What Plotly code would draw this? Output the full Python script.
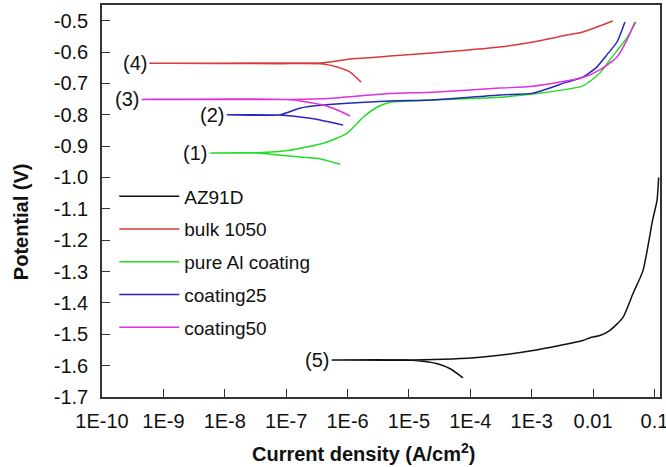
import math
import plotly.graph_objects as go

# ---- data (current density A/cm2, potential V) ----
az91d_i = [7.6e-5, 4.7e-5, 2.9e-5, 1.17e-5, 5.6e-7, 1.17e-5, 1.45e-4, 1.05e-3, 6.8e-3, 8.9e-3,
           0.0129, 0.0186, 0.0305, 0.0447, 0.065, 0.093, 0.11, 0.117]
az91d_e = [-1.639, -1.610, -1.594, -1.583, -1.582, -1.582, -1.573, -1.552, -1.520, -1.511,
           -1.504, -1.488, -1.447, -1.370, -1.297, -1.137, -1.073, -1.000]

bulk_i = [1.66e-6, 1.1e-6, 6.8e-7, 4.0e-7, 7.9e-8, 6.0e-10, 7.9e-8, 4.0e-7, 1.1e-6, 2.0e-6,
          4.9e-6, 8.5e-5, 3.0e-4, 1.05e-3, 3.7e-3, 6.8e-3, 0.021]
bulk_e = [-0.696, -0.664, -0.648, -0.638, -0.637, -0.636, -0.635, -0.634, -0.622, -0.619,
          -0.613, -0.594, -0.584, -0.568, -0.546, -0.536, -0.501]

pureal_i = [7.6e-7, 3.2e-7, 1.66e-7, 3.3e-8, 5.8e-9, 3.3e-8, 1.15e-7, 4.0e-7, 9.8e-7, 1.8e-6,
            3.0e-6, 4.9e-6, 2.45e-5, 3.0e-4, 1.05e-3, 6.8e-3, 0.0129, 0.0186, 0.0355, 0.050]
pureal_e = [-0.958, -0.939, -0.935, -0.922, -0.922, -0.921, -0.913, -0.891, -0.859, -0.808,
            -0.776, -0.760, -0.753, -0.744, -0.734, -0.708, -0.667, -0.626, -0.555, -0.504]

c25_i = [8.5e-7, 5.1e-7, 2.45e-7, 7.9e-8, 1.1e-8, 7.9e-8, 1.66e-7, 4.0e-7, 4.9e-6, 2.45e-5,
         3.0e-4, 1.05e-3, 3.7e-3, 6.8e-3, 0.0115, 0.0166, 0.0245, 0.033]
c25_e = [-0.833, -0.823, -0.811, -0.801, -0.800, -0.800, -0.779, -0.769, -0.756, -0.753,
         -0.737, -0.731, -0.696, -0.680, -0.648, -0.610, -0.568, -0.504]

c50_i = [1.1e-6, 6.8e-7, 4.0e-7, 1.15e-7, 4.5e-10, 1.15e-7, 5.7e-7, 4.9e-6, 2.45e-5, 3.0e-4,
         1.05e-3, 6.8e-3, 0.0129, 0.0245, 0.0355, 0.048]
c50_e = [-0.804, -0.785, -0.769, -0.752, -0.751, -0.751, -0.747, -0.732, -0.728, -0.715,
         -0.709, -0.681, -0.657, -0.616, -0.562, -0.504]

series = [
    ("AZ91D", az91d_i, az91d_e, "#111111", "(5)"),
    ("bulk 1050", bulk_i, bulk_e, "#d83a3a", "(4)"),
    ("pure Al coating", pureal_i, pureal_e, "#22dd22", "(1)"),
    ("coating25", c25_i, c25_e, "#2626c0", "(2)"),
    ("coating50", c50_i, c50_e, "#e030e0", "(3)"),
]

x_tickvals = [1e-10, 1e-9, 1e-8, 1e-7, 1e-6, 1e-5, 1e-4, 1e-3, 0.01, 0.1]
x_ticktext = ["1E-10", "1E-9", "1E-8", "1E-7", "1E-6", "1E-5", "1E-4", "1E-3", "0.01", "0.1"]
y_tickvals = [-0.5, -0.6, -0.7, -0.8, -0.9, -1.0, -1.1, -1.2, -1.3, -1.4, -1.5, -1.6, -1.7]
y_ticktext = ["%.1f" % v for v in y_tickvals]

FONT = "Liberation Sans, Arial, sans-serif"
INK = "#111111"

fig = go.Figure()
annotations = []
for name, xi, ye, col, lab in series:
    fig.add_trace(go.Scatter(x=xi, y=ye, mode="lines", name=name,
                             line=dict(color=col, width=1.5, shape="spline", smoothing=0.6),
                             legendgroup=name))
    # label placed at the leftmost (Ecorr) point of each curve
    k = min(range(len(xi)), key=lambda j: xi[j])
    annotations.append(dict(x=math.log10(xi[k]), y=ye[k], xref="x", yref="y",
                            text=lab, showarrow=False, xanchor="right", yanchor="middle",
                            xshift=-1, font=dict(family=FONT, size=20, color=INK)))

# axis titles as annotations for exact placement
annotations.append(dict(text="<b>Potential (V)</b>", textangle=-90, showarrow=False,
                        xref="paper", yref="paper", x=0, y=0.446, xanchor="center",
                        yanchor="middle", xshift=-81, font=dict(family=FONT, size=20, color=INK)))
annotations.append(dict(text="<b>Current density (A/cm<sup>2</sup>)</b>", showarrow=False,
                        xref="paper", yref="paper", x=0.468, y=0, xanchor="center",
                        yanchor="middle", yshift=-55, font=dict(family=FONT, size=20, color=INK)))

fig.update_layout(
    width=666, height=467,
    margin=dict(l=102, r=6, t=5, b=70, autoexpand=False),
    paper_bgcolor="white", plot_bgcolor="white",
    font=dict(family=FONT, size=20, color=INK),
    showlegend=True,
    legend=dict(x=0.022, y=0.56, xanchor="left", yanchor="top",
                bgcolor="rgba(0,0,0,0)", font=dict(family=FONT, size=19, color=INK),
                traceorder="grouped", tracegroupgap=5, itemwidth=60),
    annotations=annotations,
)
fig.update_xaxes(type="log", range=[-10, -0.91], automargin=False,
                 tickvals=x_tickvals, ticktext=x_ticktext,
                 ticks="inside", ticklen=8, tickwidth=1.2, tickcolor="#333333",
                 showline=True, linecolor="#333333", linewidth=1.5, mirror=True,
                 showgrid=False, zeroline=False, ticklabelstandoff=5,
                 ticklabeloverflow="allow",
                 tickfont=dict(family=FONT, size=20, color=INK))
fig.update_yaxes(range=[-1.7, -0.45], automargin=False,
                 tickvals=y_tickvals, ticktext=y_ticktext,
                 ticks="inside", ticklen=8, tickwidth=1.2, tickcolor="#333333",
                 showline=True, linecolor="#333333", linewidth=1.5, mirror=True,
                 showgrid=False, zeroline=False, ticklabelstandoff=8,
                 tickfont=dict(family=FONT, size=20, color=INK))

fig.write_html("out.html", config={"displayModeBar": False},
               post_script="document.body.style.margin='0px';document.body.style.overflow='hidden';")
